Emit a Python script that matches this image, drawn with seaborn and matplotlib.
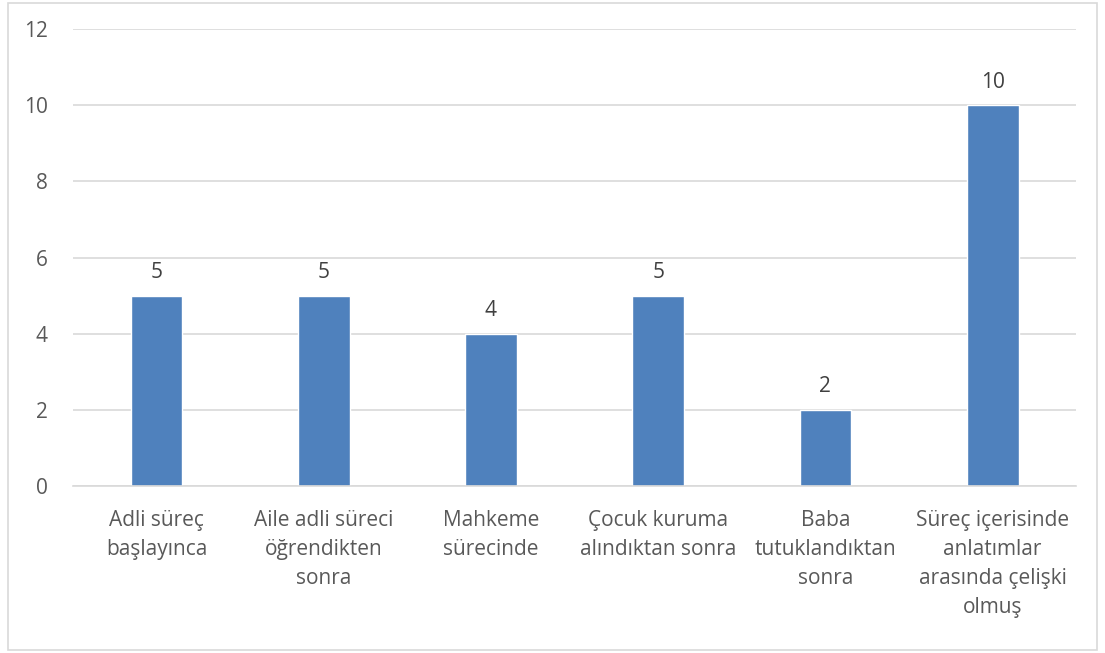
import matplotlib
matplotlib.use("Agg")
import matplotlib.pyplot as plt
import seaborn as sns
import pandas as pd
from matplotlib.patches import Rectangle

categories = [
    "Adli süreç\nbaşlayınca",
    "Aile adli süreci\nöğrendikten\nsonra",
    "Mahkeme\nsürecinde",
    "Çocuk kuruma\nalındıktan sonra",
    "Baba\ntutuklandıktan\nsonra",
    "Süreç içerisinde\nanlatımlar\narasında çelişki\nolmuş",
]
values = [5, 5, 4, 5, 2, 10]
yticks = [0, 2, 4, 6, 8, 10, 12]

sns.set_theme(style="white")
plt.rcParams["font.family"] = ["Open Sans", "DejaVu Sans"]

df = pd.DataFrame({"cat": categories, "val": values})

fig = plt.figure(figsize=(11.05, 6.53), dpi=100)
ax = fig.add_axes([0.066, 0.2557, 0.908, 0.6999])

sns.barplot(data=df, x="cat", y="val", color="#4F81BD", saturation=1,
            width=0.31, ax=ax)

ax.set_ylim(0, 12)
ax.set_yticks(yticks)
ax.set_xlim(-0.5, len(categories) - 0.5)
ax.yaxis.grid(True, color="#D9D9D9", linewidth=1.2)
ax.set_axisbelow(True)
for s in ["top", "right", "left"]:
    ax.spines[s].set_visible(False)
ax.spines["bottom"].set_color("#D9D9D9")
ax.spines["bottom"].set_linewidth(1.2)
ax.tick_params(axis="both", length=0, colors="#595959", labelsize=15)
ax.tick_params(axis="x", pad=17)
ax.tick_params(axis="y", pad=18)
for lab in ax.get_xticklabels():
    lab.set_linespacing(1.5)
    lab.set_color("#595959")
ax.set_xlabel("")
ax.set_ylabel("")

for c in ax.containers:
    ax.bar_label(c, labels=[str(v) for v in values], padding=9,
                 color="#404040", fontsize=15)

fig.patches.append(Rectangle((8 / 1105, 3 / 653), 1089 / 1105, 647 / 653,
                             transform=fig.transFigure, fill=False,
                             edgecolor="#D9D9D9", linewidth=1.2))

fig.savefig("out.png", dpi=100)
